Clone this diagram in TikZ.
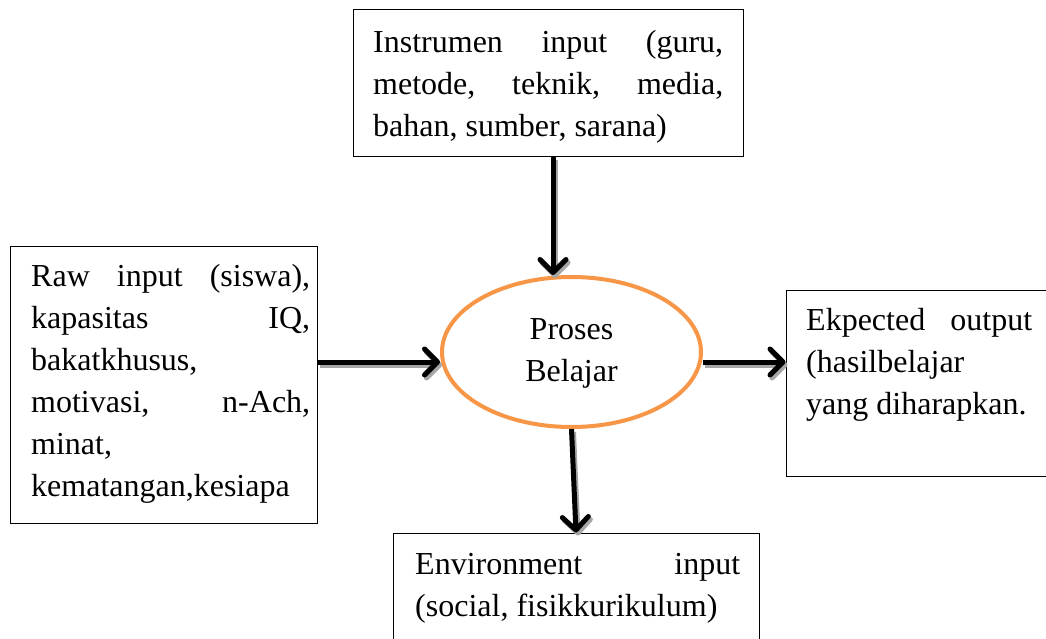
\documentclass[tikz,border=0pt]{standalone}
\usepackage{fontspec}
\setmainfont{Liberation Serif}
\usetikzlibrary{arrows.meta,shapes.geometric}
\definecolor{procorange}{RGB}{247,150,70}
\newcommand{\jl}[2]{\makebox[#1][s]{\spaceskip=0pt\xspaceskip=0pt\relax #2}}
\newcommand{\natsp}{\spaceskip=0pt\xspaceskip=0pt\relax}
\begin{document}
\begin{tikzpicture}[x=1pt,y=-1pt,
  frame/.style={draw=black, line width=1pt, inner sep=0pt, rectangle},
  txt/.style={anchor=north west, inner sep=0pt, align=left, font=\fontsize{32}{42}\selectfont},
  arrtip/.style={-{Straight Barb[length=13pt,width=26pt,round]}},
  arr/.style={arrtip, line width=5pt, draw=black},
  arrsh/.style={arrtip, line width=5pt, draw=black!35, transform canvas={xshift=2pt,yshift=-3pt}},
]
\useasboundingbox (0,0) rectangle (1046,639);
\fill[white] (0,0) rectangle (1046,639);
\clip (0,0) rectangle (1046,639);

% frames
\node[frame, minimum width=390pt, minimum height=147pt] (tbox) at (548,83.5) {};
\node[frame, minimum width=307pt, minimum height=277pt] (lbox) at (163.5,384.5) {};
\node[frame, minimum width=270pt, minimum height=186pt] (rbox) at (921,383) {};
\node[frame, minimum width=366pt, minimum height=117pt] (bbox) at (576,591.5) {};
\node[ellipse, draw=procorange, line width=4pt, minimum width=259pt, minimum height=150pt,
      align=center, font=\fontsize{32}{42}\selectfont, inner sep=0pt] (proc) at (571.5,352)
      {\strut Proses\\\strut Belajar};

% texts
\node[txt, text width=350pt] (ttext) at (373,23)
  {\natsp\jl{350pt}{\strut Instrumen input (guru,}\\\jl{350pt}{metode, teknik, media,}\\bahan, sumber, sarana)};
\node[txt, text width=279pt] (ltext) at (31,256.6)
  {\natsp\jl{279pt}{\strut Raw input (siswa),}\\\jl{279pt}{kapasitas IQ,}\\bakatkhusus,\\\jl{279pt}{motivasi, n-Ach,}\\minat,\\kematangan,kesiapa};
\node[txt, text width=226pt] (rtext) at (806,300.6)
  {\natsp\jl{226pt}{\strut Ekpected output}\\(hasilbelajar\\yang diharapkan.};
\node[txt, text width=325pt] (btext) at (415,544.6)
  {\natsp\jl{325pt}{\strut Environment input}\\(social, fisikkurikulum)};

% connectors
\coordinate (ly) at (0,362);
\coordinate (tx) at (553,0);
\draw[arrsh] (lbox.east |- ly) -- (proc.west |- ly);
\draw[arrsh] (proc.east |- ly) -- (rbox.west |- ly);
\draw[arrsh] (tbox.south -| tx) -- (proc.north -| tx);
\draw[arrsh] (proc.south) -- (bbox.north);
\draw[arr] (lbox.east |- ly) -- (proc.west |- ly);
\draw[arr] (proc.east |- ly) -- (rbox.west |- ly);
\draw[arr] (tbox.south -| tx) -- (proc.north -| tx);
\draw[arr] (proc.south) -- (bbox.north);
\end{tikzpicture}
\end{document}
